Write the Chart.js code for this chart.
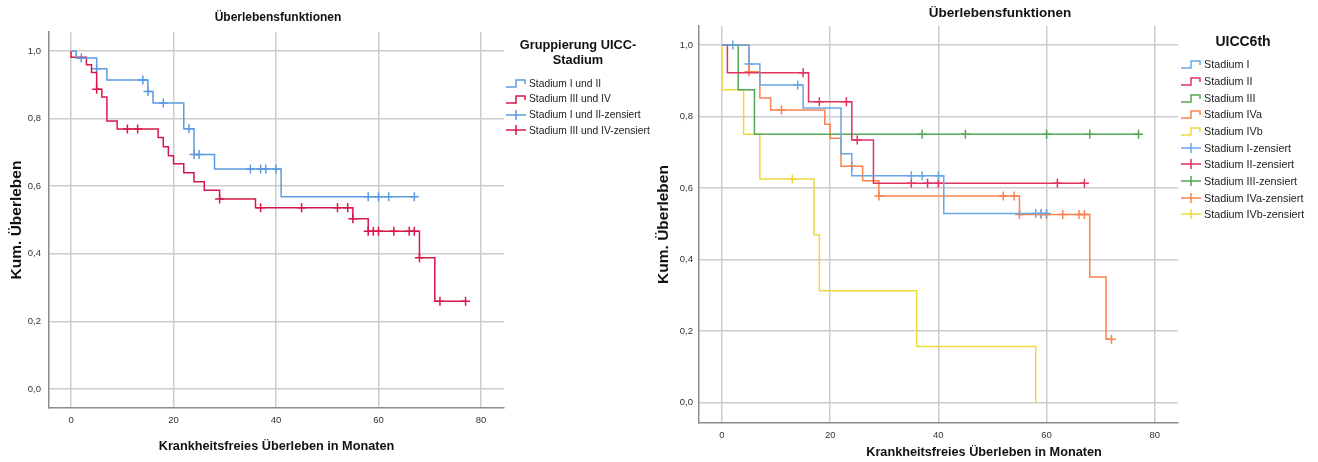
<!DOCTYPE html>
<html>
<head>
<meta charset="utf-8">
<script src="https://cdn.jsdelivr.net/npm/chart.js@4.4.0/dist/chart.umd.min.js"></script>
<style>
  body { margin: 0; width: 1318px; height: 462px; background: #fff; position: relative; overflow: hidden;
         font-family: "Liberation Sans", Arial, sans-serif; color: #111; }
  canvas { position: absolute; top: 0; }
  #links { left: 0; }
  #rechts { left: 640px; }
  .titel { position: absolute; width: 300px; font-weight: bold; text-align: center; white-space: nowrap; }
  .kopf { position: absolute; width: 200px; font-weight: bold; text-align: center; white-space: nowrap; }
  .eintrag { position: absolute; white-space: nowrap; display: flex; align-items: center; color: #222; }
  .eintrag svg { margin-right: 2px; }
</style>
</head>
<body>
<canvas id="links" width="510" height="462"></canvas>
<canvas id="rechts" width="545" height="462"></canvas>
<div class="titel" style="left:128px; top:10px; font-size:12px; line-height:15px;">Überlebensfunktionen</div>
<div class="titel" style="left:850px; top:5px; font-size:13.5px; line-height:16px;">Überlebensfunktionen</div>
<div class="titel" id="xTitelRechts" style="left:834px; top:444px; font-size:12.7px; line-height:16px;"></div>
<div class="kopf" style="left:478px; top:37px; font-size:12.8px; line-height:15px;">Gruppierung UICC-<br>Stadium</div>
<div class="kopf" style="left:1143px; top:33px; font-size:14px; line-height:17px;">UICC6th</div>
<div id="legLinks"></div>
<div id="legRechts"></div>
<script>
// Achsen
const xTicks = [0, 20, 40, 60, 80];
const yTicks = [0, 0.2, 0.4, 0.6, 0.8, 1.0];
const xTitel = 'Krankheitsfreies Überleben in Monaten';
const yTitel = 'Kum. Überleben';

// links: Gruppierung UICC-Stadium (Monate / kum. Überleben)
const linksGruppen = ['Stadium I und II', 'Stadium III und IV'];
const linksFarben = ['#5b9be0', '#d6184a'];
const linksZeitI = [0, 1, 5, 7, 15, 16, 22, 24, 28, 41, 67];
const linksSurvI = [1, 0.979, 0.947, 0.914, 0.880, 0.846, 0.770, 0.694, 0.651, 0.569, 0.569];
const linksZensI = [2, 5, 14, 15, 18, 23, 24, 25, 35, 37, 38, 40, 58, 60, 62, 67];
const linksZeitIII = [0, 0, 3, 4, 5, 6, 7, 9, 17, 18, 19, 20, 22, 24, 26, 29, 36, 55, 58, 68, 71, 77];
const linksSurvIII = [1, 0.981, 0.959, 0.936, 0.887, 0.864, 0.793, 0.769, 0.744, 0.717, 0.690, 0.666,
                      0.640, 0.613, 0.588, 0.562, 0.536, 0.504, 0.467, 0.388, 0.260, 0.260];
const linksZensIII = [5, 11, 13, 29, 37, 45, 52, 54, 55, 58, 59, 60, 63, 66, 67, 68, 72, 77];

// rechts: UICC6th
const rechtsGruppen = ['Stadium I', 'Stadium II', 'Stadium III', 'Stadium IVa', 'Stadium IVb'];
const rechtsFarben = ['#6aa6e6', '#e2325f', '#52a852', '#f7844f', '#ecd93c'];
const zeitI = [0, 5, 7, 15, 22, 24, 41, 60];
const survI = [1, 0.947, 0.888, 0.824, 0.696, 0.634, 0.529, 0.529];
const zensI = [2, 5, 14, 35, 37, 40, 58, 59, 60];
const zeitII = [0, 1, 16, 24, 28, 67];
const survII = [1, 0.922, 0.841, 0.734, 0.613, 0.613];
const zensII = [15, 18, 23, 25, 35, 38, 40, 62, 67];
const zeitIII = [0, 3, 6, 77];
const survIII = [1, 0.875, 0.75, 0.75];
const zensIII = [37, 45, 60, 68, 77];
const zeitIVa = [0, 5, 7, 9, 19, 20, 22, 26, 29, 55, 68, 71, 72];
const survIVa = [1, 0.925, 0.852, 0.818, 0.778, 0.739, 0.661, 0.620, 0.578, 0.526, 0.351, 0.177, 0.177];
const zensIVa = [5, 11, 24, 29, 52, 54, 55, 59, 60, 63, 66, 67, 72];
const zeitIVb = [0, 0, 4, 7, 17, 18, 36, 58];
const survIVb = [1, 0.875, 0.75, 0.625, 0.469, 0.313, 0.157, 0];
const zensIVb = [13];

const GRID = '#cdcdcd';
const ACHSE = '#8c8c8c';
Chart.defaults.font.family = '"Liberation Sans", Arial, sans-serif';

// Wert der Treppe zum Zeitpunkt t (fuer die Zensierungsmarken)
function stufe(zeit, surv, t) {
  let s = surv[0];
  zeit.forEach((z, i) => { if (z <= t) s = surv[i]; });
  return s;
}

function datensaetze(zeiten, survs, zens, farben) {
  const ds = [];
  zeiten.forEach((zeit, k) => {
    ds.push({
      data: zeit.map((t, i) => ({ x: t, y: survs[k][i] })),
      stepped: 'before', borderColor: farben[k], borderWidth: 1.5,
      pointRadius: 0, pointHoverRadius: 0, fill: false
    });
  });
  zeiten.forEach((zeit, k) => {
    ds.push({
      data: zens[k].map(t => ({ x: t, y: stufe(zeit, survs[k], t) })),
      showLine: false, pointStyle: 'cross', pointRadius: 4.5, pointHoverRadius: 4.5,
      borderColor: farben[k], backgroundColor: farben[k], borderWidth: 1.5
    });
  });
  return ds;
}

function optionen(c) {
  return {
    responsive: false,
    animation: false,
    layout: { padding: c.padding },
    plugins: { legend: { display: false }, title: { display: false }, tooltip: { enabled: false } },
    scales: {
      x: {
        type: 'linear', min: c.xMin, max: c.xMax,
        afterBuildTicks: s => { s.ticks = xTicks.map(v => ({ value: v })); },
        afterFit: s => { s.height = c.xHoehe; },
        grid: { color: GRID, lineWidth: 1.5, drawTicks: false },
        border: { color: ACHSE, width: 1.5 },
        ticks: { padding: 6.3, font: { size: 9.5 }, color: '#333', callback: v => String(v) },
        title: { display: c.xTitel, text: xTitel, color: '#111',
                 font: { size: 12.7, weight: 'bold' }, padding: { top: 0, bottom: c.xTitelPad } }
      },
      y: {
        min: c.yMin, max: c.yMax,
        afterBuildTicks: s => { s.ticks = yTicks.map(v => ({ value: v })); },
        afterFit: s => { s.width = c.yBreite; },
        grid: { color: GRID, lineWidth: 1.5, drawTicks: false },
        border: { color: ACHSE, width: 1.5 },
        ticks: { padding: c.yTickPad, font: { size: 9.5 }, color: '#333',
                 callback: v => v.toFixed(1).replace('.', ',') },
        title: { display: true, text: yTitel, color: '#111',
                 font: { size: 15.5, weight: 'bold' }, padding: { top: c.yTitelPad, bottom: 0 } }
      }
    }
  };
}

new Chart('links', {
  type: 'line',
  data: { datasets: datensaetze([linksZeitI, linksZeitIII], [linksSurvI, linksSurvIII],
                                [linksZensI, linksZensIII], linksFarben) },
  options: optionen({ padding: { left: 4, right: 6, top: 32, bottom: 0 }, xMin: -4.3, xMax: 84.5,
                      yMin: -0.056, yMax: 1.056, xHoehe: 54, yBreite: 45, yTickPad: 8,
                      xTitel: true, xTitelPad: 7.7, yTitelPad: 3.7 })
});

// rechts sitzt der x-Titel weiter rechts als die Achsenmitte, daher als Textfeld
new Chart('rechts', {
  type: 'line',
  data: { datasets: datensaetze([zeitI, zeitII, zeitIII, zeitIVa, zeitIVb],
                                [survI, survII, survIII, survIVa, survIVb],
                                [zensI, zensII, zensIII, zensIVa, zensIVb], rechtsFarben) },
  options: optionen({ padding: { left: 8, right: 7, top: 26, bottom: 0 }, xMin: -4.25, xMax: 84.3,
                      yMin: -0.057, yMax: 1.053, xHoehe: 39, yBreite: 51, yTickPad: 6,
                      xTitel: false, xTitelPad: 2.4, yTitelPad: 6 })
});
document.getElementById('xTitelRechts').textContent = xTitel;

// Legenden (Treppe + Zensiert-Kreuz)
function icon(farbe, kreuz) {
  const d = kreuz ? 'M1 6 H21 M11 1 V11' : 'M1 10 H11 V3 H20 V7';
  return '<svg width="22" height="12"><path d="' + d + '" fill="none" stroke="' + farbe +
         '" stroke-width="1.5"/></svg>';
}
function legende(id, gruppen, farben, x, y0, dy, groesse) {
  const el = document.getElementById(id);
  const namen = gruppen.map(g => [g, false]).concat(gruppen.map(g => [g + '-zensiert', true]));
  namen.forEach(([name, kreuz], i) => {
    const f = farben[i % gruppen.length];
    const div = document.createElement('div');
    div.className = 'eintrag';
    div.style.left = x + 'px';
    div.style.top = (y0 + i * dy - 8) + 'px';
    div.style.height = '16px';
    div.style.fontSize = groesse + 'px';
    div.innerHTML = icon(f, kreuz) + '<span>' + name + '</span>';
    el.appendChild(div);
  });
}
legende('legLinks', linksGruppen, linksFarben, 505, 83.3, 15.6, 10.3);
legende('legRechts', rechtsGruppen, rechtsFarben, 1180, 64.3, 16.67, 10.8);
</script>
</body>
</html>
